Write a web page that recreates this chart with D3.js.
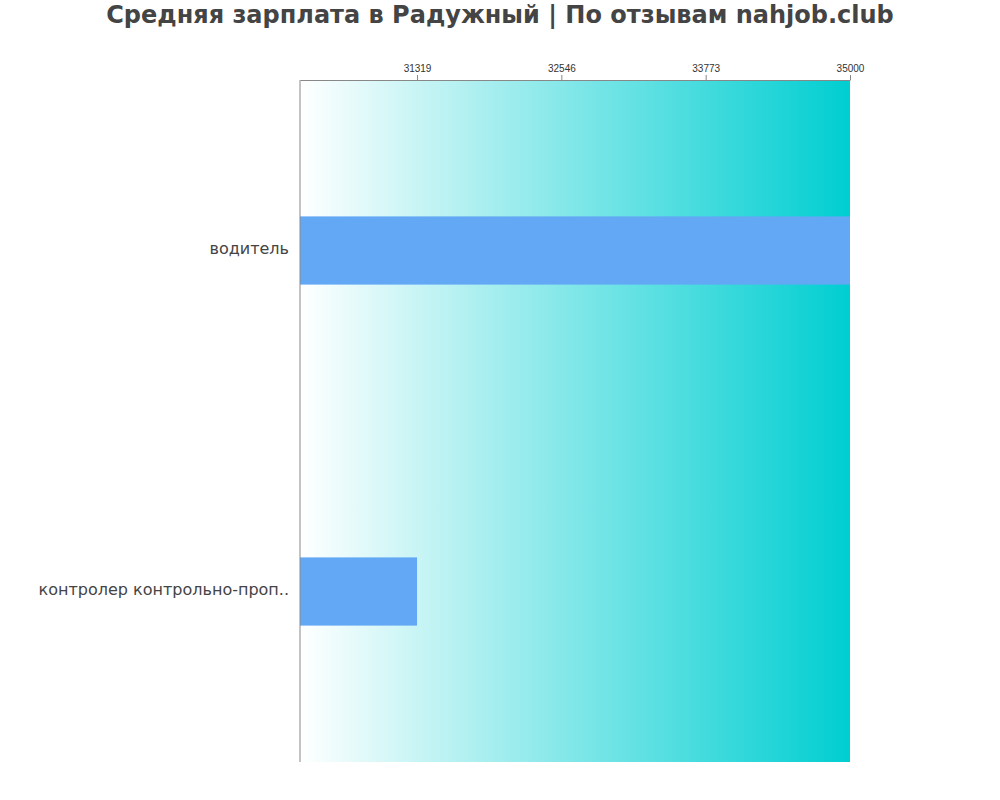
<!DOCTYPE html>
<html>
<head>
<meta charset="utf-8">
<style>
  body { margin: 0; background: #fff; }
  svg { display: block; font-family: "DejaVu Sans", sans-serif; }
</style>
</head>
<body>
<svg width="1000" height="800"></svg>
<script src="https://cdn.jsdelivr.net/npm/d3@7"></script>
<script>
    const width = 1000;
    const height = 800;

    // data
    const titleText = "Средняя зарплата в Радужный | По отзывам nahjob.club";
    const categories = ["водитель", "контролер контрольно-проп.."];
    const salaries = [35000, 31319];
    const tickValues = [31319, 32546, 33773, 35000];
    const xMin = 30324;

    const margin = { top: 80, right: 150, bottom: 38, left: 300 };
    const innerW = width - margin.left - margin.right;
    const innerH = height - margin.top - margin.bottom;

    const svg = d3.select("svg");

    const defs = svg.append("defs");
    const grad = defs.append("linearGradient")
        .attr("id", "bg")
        .attr("x1", "0%").attr("x2", "100%")
        .attr("y1", "0%").attr("y2", "0%");
    grad.append("stop").attr("offset", "0%").attr("stop-color", "#ffffff");
    grad.append("stop").attr("offset", "100%").attr("stop-color", "#00ced1");

    svg.append("text")
        .attr("x", width / 2)
        .attr("y", 23)
        .attr("text-anchor", "middle")
        .attr("font-size", 24)
        .attr("font-weight", "bold")
        .attr("fill", "#444")
        .text(titleText);

    const g = svg.append("g")
        .attr("transform", `translate(${margin.left},${margin.top})`);

    const x = d3.scaleLinear()
        .domain([xMin, 35000])
        .range([0, innerW]);

    const y = d3.scaleBand()
        .domain(categories)
        .range([0, innerH])
        .paddingInner(0.8)
        .paddingOuter(0.4);

    g.append("rect")
        .attr("width", innerW)
        .attr("height", innerH)
        .attr("fill", "url(#bg)");

    g.selectAll(".bar")
        .data(categories)
        .enter()
        .append("rect")
        .attr("class", "bar")
        .attr("x", 0)
        .attr("y", d => y(d))
        .attr("width", (d, i) => x(salaries[i]))
        .attr("height", y.bandwidth())
        .attr("fill", "#63a8f5");

    // top axis
    const xAxis = g.append("g")
        .call(d3.axisTop(x).tickValues(tickValues).tickSize(5).tickSizeOuter(0).tickFormat(d3.format("d")));
    xAxis.select(".domain").attr("stroke", "#888");
    xAxis.selectAll(".tick line").attr("stroke", "#888");
    xAxis.selectAll(".tick text").attr("font-size", 10).attr("fill", "#333");

    // left axis line + labels
    g.append("line")
        .attr("x1", 0).attr("x2", 0)
        .attr("y1", 0).attr("y2", innerH)
        .attr("stroke", "#888");

    g.selectAll(".label")
        .data(categories)
        .enter()
        .append("text")
        .attr("class", "label")
        .attr("x", -11)
        .attr("y", d => y(d) + y.bandwidth() / 2)
        .attr("dy", "0.2em")
        .attr("text-anchor", "end")
        .attr("font-size", 16)
        .attr("fill", "#444")
        .text(d => d);
</script>
</body>
</html>
